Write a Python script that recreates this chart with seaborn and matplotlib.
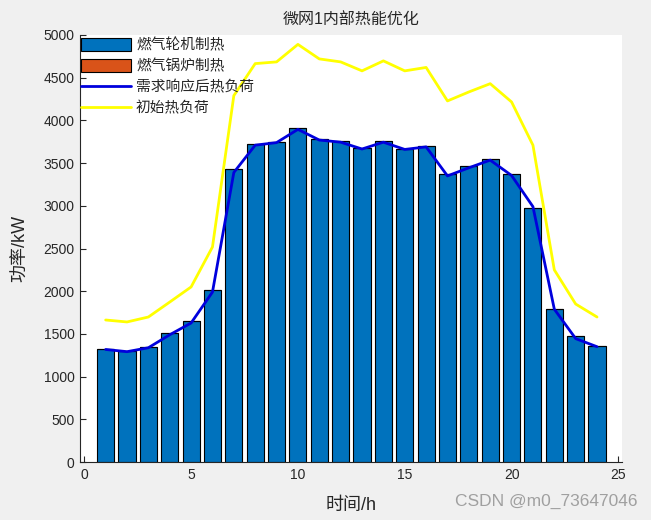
import numpy as np
import pandas as pd
import seaborn as sns
import matplotlib.pyplot as plt
from matplotlib.patches import Patch
from matplotlib.lines import Line2D

hours = list(range(1, 25))
# gas turbine heat output (bars)
turbine = [1322, 1298, 1345, 1510, 1650, 2015, 3430, 3725, 3748, 3912, 3783, 3760,
           3677, 3760, 3665, 3700, 3372, 3467, 3548, 3372, 2975, 1792, 1475, 1358]
# gas boiler heat output (all zero)
boiler = [0] * 24
# heat load after demand response
load_dr = [1318, 1292, 1338, 1490, 1628, 1990, 3390, 3710, 3740, 3895, 3770, 3745,
           3665, 3745, 3660, 3690, 3350, 3445, 3535, 3355, 2990, 1790, 1445, 1350]
# original heat load
load_init = [1663, 1640, 1698, 1873, 2050, 2518, 4290, 4665, 4685, 4890, 4720, 4685,
             4580, 4697, 4580, 4620, 4228, 4333, 4430, 4216, 3710, 2250, 1850, 1698]

labels = ['燃气轮机制热', '燃气锅炉制热', '需求响应后热负荷', '初始热负荷']

sns.set_theme(style='ticks')
plt.rcParams['font.family'] = ['Liberation Sans', 'Noto Sans CJK SC', 'DejaVu Sans']
plt.rcParams['xtick.direction'] = 'in'
plt.rcParams['ytick.direction'] = 'in'

df = pd.DataFrame({'h': hours, 'gt': turbine, 'gb': boiler, 'dr': load_dr, 'init': load_init})

fig = plt.figure(figsize=(6.51, 5.2), dpi=100, facecolor='#f0f0f0')
ax = fig.add_axes([0.1229, 0.1115, 0.8326, 0.8212])
ax.set_facecolor('white')

sns.barplot(data=df, x='h', y='gt', native_scale=True, width=0.8, color='#0072BD',
            saturation=1, edgecolor='black', linewidth=0.8, ax=ax)
ax.bar(df['h'], df['gb'], bottom=df['gt'], width=0.8, color='#D95319',
       edgecolor='black', linewidth=0.8)
sns.lineplot(data=df, x='h', y='dr', color='#0000dd', linewidth=2, ax=ax)
sns.lineplot(data=df, x='h', y='init', color='#ffff00', linewidth=2, ax=ax)

ax.set_xlim(-0.2, 25.17)
ax.set_ylim(0, 5000)
ax.set_xticks(range(0, 26, 5))
ax.set_yticks(range(0, 5001, 500))
ax.tick_params(labelsize=10, colors='#262626', length=4, width=0.8, pad=4)
for s in ['top', 'right']:
    ax.spines[s].set_visible(False)
for s in ['left', 'bottom']:
    ax.spines[s].set_color('#262626')
    ax.spines[s].set_linewidth(0.8)

ax.set_title('微网1内部热能优化', fontsize=11.5, color='#262626', pad=7)
ax.set_xlabel('时间/h', fontsize=13, color='#262626', labelpad=11)
ax.set_ylabel('功率/kW', fontsize=13, color='#262626', labelpad=10)

handles = [Patch(facecolor='#0072BD', edgecolor='black', linewidth=0.8),
           Patch(facecolor='#D95319', edgecolor='black', linewidth=0.8),
           Line2D([], [], color='#0000dd', linewidth=2),
           Line2D([], [], color='#ffff00', linewidth=2)]
leg = ax.legend(handles, labels, loc='upper left', bbox_to_anchor=(-0.004, 1.0),
                frameon=False, fontsize=10.6, handlelength=3.4, handleheight=0.95,
                labelspacing=0.45, handletextpad=0.35, borderpad=0.1, borderaxespad=0.1)
for t in leg.get_texts():
    t.set_color('#262626')

fig.text(0.98, 0.035, 'CSDN @m0_73647046', ha='right', va='center',
         fontsize=12.5, color='#a0a0a0')

fig.savefig('out.png', dpi=100, facecolor=fig.get_facecolor())
